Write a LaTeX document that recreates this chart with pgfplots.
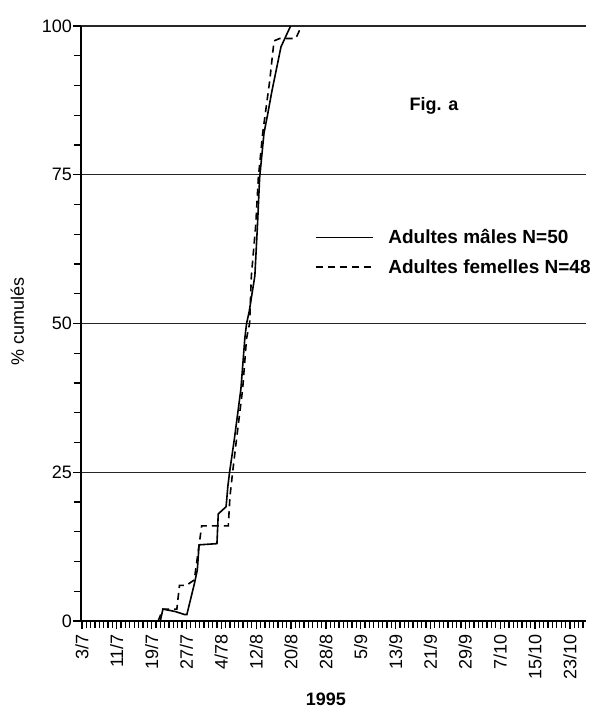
\documentclass[border=0pt]{standalone}
\usepackage{pgfplots}
\pgfplotsset{compat=1.18}
\usepackage{fontspec}
\setmainfont{Liberation Sans}
\newcommand\tfont{\fontsize{18}{21.6}\selectfont}
\newcommand\lfont{\fontsize{19}{22.8}\selectfont}
\begin{document}
\begin{tikzpicture}
\useasboundingbox (-81pt,-92pt) rectangle (510pt,621pt);
\begin{axis}[
  at={(0,0)}, anchor=south west,
  width=505pt, height=595pt, scale only axis,
  xmin=-0.2, xmax=115.7, ymin=0, ymax=100,
  axis x line=bottom, axis y line=left,
  axis line style={line width=2.4pt, -},
  xtick={0,8,...,112},
  xticklabels={3/7,11/7,19/7,27/7,4/78,12/8,20/8,28/8,5/9,13/9,21/9,29/9,7/10,15/10,23/10},
  minor xtick={0,1,...,115},
  ytick={0,25,50,75,100},
  minor ytick={5,10,...,95},
  tick align=outside, xtick align=outside, ytick align=outside,
  major tick length=8pt, minor tick length=7pt,
  tick style={line width=1.3pt, black},
  ymajorgrids, grid style={line width=1.1pt, black!85},
  /pgf/number format/assume math mode=true,
  yticklabel style={font=\tfont, inner sep=1pt},
  xticklabel style={font=\tfont, rotate=90, anchor=east, inner sep=5pt},
  ylabel={\% cumulés},
  ylabel style={font=\tfont, at={(axis description cs:-0.126,0.503)}, anchor=center},
  xlabel={\textbf{1995}},
  xlabel style={font=\tfont, at={(axis description cs:0.485,-0.132)}, anchor=center},
  clip=false,
  legend style={draw=none, fill=none, at={(0.4566,0.620)}, anchor=west,
    font=\lfont\bfseries, row sep=8pt, nodes={inner sep=3pt},
    /tikz/every odd column/.append style={column sep=12pt}},
  legend cell align=left,
  legend image code/.code={\draw[#1] (0pt,0pt) -- (57pt,0pt);},
]
\addplot[black, line width=1.6pt] coordinates {
(18.0,0) (18.6,2) (21.4,1.6) (23.5,1.1) (24.1,1.1) (25.8,6.2) (26.5,8.6) (26.9,12.8)
(31.0,13) (31.3,18) (33.1,19.2) (33.5,22.6) (33.9,25) (35.0,30.6) (36.5,39) (37.4,47.5)
(37.8,50) (38.4,52) (39.7,58) (40.3,66.5) (40.8,74.5) (41.8,82) (42.6,85) (43.6,89)
(45.7,96.5) (47.9,100)
};
\addlegendentry{Adultes mâles N=50}
\addplot[black, line width=1.6pt, dash pattern=on 7pt off 5pt] coordinates {
(17.5,0) (18.6,2) (21.8,2) (22.4,6) (24.0,6) (25.8,6.9) (27.5,16) (33.6,16) (34.0,21)
(34.6,25) (35.5,30.6) (36.9,39) (37.8,47.5) (38.5,50) (38.9,58) (39.9,66.5)
(40.5,74.5) (41.5,82) (43.1,90.7) (44.1,97.5) (45.4,97.9) (49.1,97.9) (50.4,100)
};
\addlegendentry{Adultes femelles N=48}
\node[font=\tfont\bfseries] at (axis description cs:0.699,0.866) {Fig. a};
\end{axis}
\end{tikzpicture}
\end{document}
